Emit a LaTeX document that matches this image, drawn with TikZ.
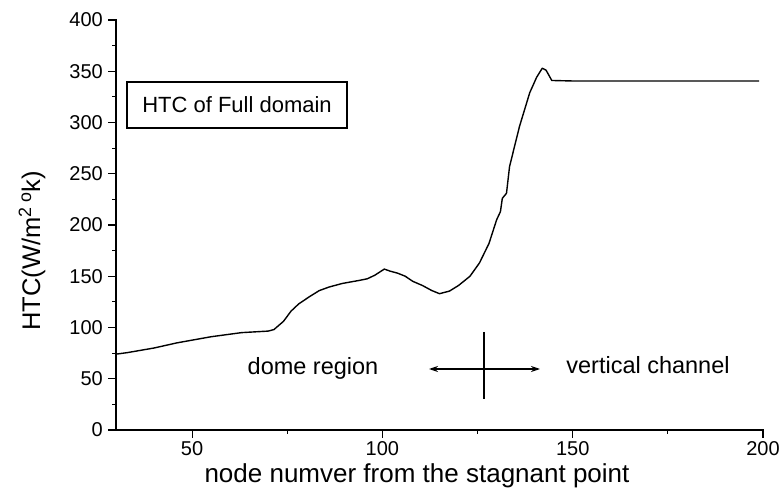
\documentclass[tikz,border=0pt]{standalone}
\usepackage{fontspec}
\setmainfont{Liberation Sans}
\usetikzlibrary{arrows.meta}
\begin{document}
\begin{tikzpicture}[
  axisline/.style={line width=1.3pt, line cap=rect},
  majortick/.style={line width=1.2pt},
  minortick/.style={line width=1pt},
  ticklab/.style={font=\fontsize{20}{20}\selectfont, inner sep=0pt},
  annot/.style={font=\fontsize{23.5}{23.5}\selectfont, inner sep=0pt},
  curve/.style={line width=1.4pt, line join=round},
  legendbox/.style={draw, line width=1.2pt, minimum width=220pt, minimum height=46pt, font=\fontsize{22}{22}\selectfont}
]
\useasboundingbox (0pt,0pt) rectangle (779pt,493pt);
\begin{scope}[x=3.806pt, y=1.025pt, shift={(1.82pt,63pt)}]
  % axes
  \coordinate (o) at (30,0);
  \coordinate (xe) at (200,0);
  \coordinate (ye) at (30,400);
  \draw[axisline] (ye) -- (o) -- (xe);
  % x ticks
  \foreach \v in {50,100,150,200} {
    \draw[majortick] (\v,0) -- ++(0,-7.5);
    \node[ticklab, anchor=north] at ([yshift=-11pt]\v,0) {\v};
  }
  \foreach \v in {75,125,175} \draw[minortick] (\v,0) -- ++(0,-4);
  % y ticks
  \foreach \v in {0,50,...,400} {
    \draw[majortick] (30,\v) -- ++(-2.1,0);
    \node[ticklab, anchor=east] at ([xshift=-13pt]30,\v) {\v};
  }
  \foreach \v in {25,75,...,375} \draw[minortick] (30,\v) -- ++(-1.1,0);
  % curve
  \draw[curve] plot coordinates {
    (30,74) (33,75.5) (40,80) (46,85) (55,91) (63,95) (70,96.5) (71.5,98)
    (74,106) (76,116) (78,123) (80.8,130) (83.4,136) (86,139.5) (89.5,143)
    (94,146) (96,147.5) (98,151) (100.5,157) (102,155) (104,153) (106,150)
    (108,145) (110.5,141) (113,136) (115,133) (117.6,135.5) (120,141)
    (123,150) (125.5,163) (128,182) (130,205) (131,213) (131.5,226)
    (132.6,231) (133.4,257) (136,296) (138.7,329) (140.5,344) (142,353)
    (143,351) (144.5,341) (150,340.5) (199,340.5)};
\end{scope}
% labels
\node[annot, font=\fontsize{26}{26}\selectfont] (xtitle) at (417pt,17pt) {node numver from the stagnant point};
\node[annot, font=\fontsize{25.5}{25.5}\selectfont, rotate=90] (ytitle) at (32pt,242pt) {HTC(W/m\textsuperscript{2}\,\textsuperscript{o}k)};
\node[legendbox] (legend) at (237pt,388pt) {HTC of Full domain};
\node[annot] (dome) at (313pt,125pt) {dome region};
\node[annot] (vert) at (648pt,128pt) {vertical channel};
\coordinate (al) at (429pt,124pt);
\coordinate (ar) at (540pt,124pt);
\coordinate (vt) at (484pt,161pt);
\coordinate (vb) at (484pt,94pt);
\draw[line width=1.2pt, {Stealth[length=9pt,width=6pt]}-{Stealth[length=9pt,width=6pt]}] (al) -- (ar);
\draw[line width=1.2pt] (vt) -- (vb);
\end{tikzpicture}
\end{document}
